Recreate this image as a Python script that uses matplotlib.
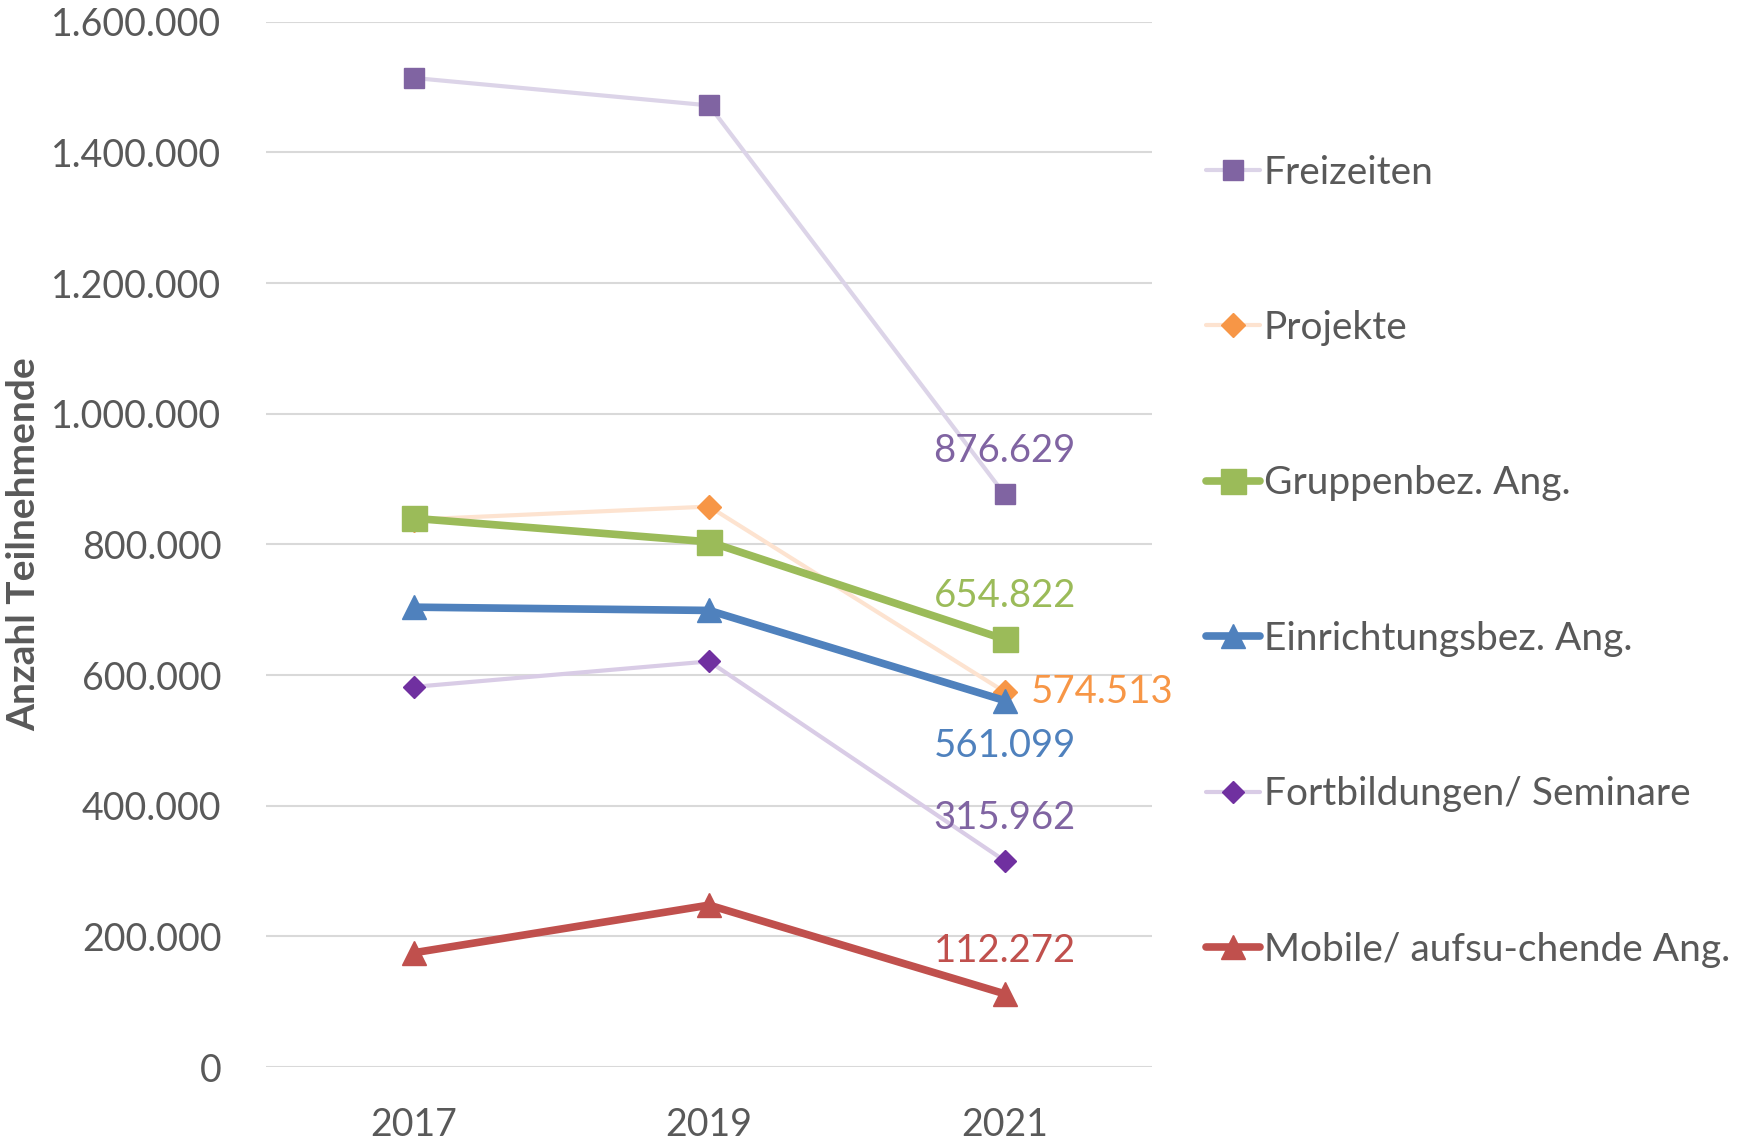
#!/usr/bin/env python3

#imports
import matplotlib
matplotlib.use("Agg")
import matplotlib.pyplot as plt


#data
years = ["2017", "2019", "2021"]
series_names = ["Freizeiten", "Projekte", "Gruppenbez. Ang.", "Einrichtungsbez. Ang.",
                "Fortbildungen/ Seminare", "Mobile/ aufsu-chende Ang."]
freizeiten = [1514000, 1472000, 876629]
projekte = [838000, 858000, 574513]
gruppen = [840000, 804000, 654822]
einrichtung = [704000, 699000, 561099]
fortbildung = [582000, 621000, 315962]
mobile = [175000, 248000, 112272]
yticks = [0, 200000, 400000, 600000, 800000, 1000000, 1200000, 1400000, 1600000]

#styles
grey = "#595959"
styles = [
    # line colour, marker colour, marker, markersize, linewidth, label colour, label offset
    ("#DCD4E8", "#8064A2", "s", 15, 3, "#8064A2", (0, 31), "center"),
    ("#FDE3D0", "#F79646", "D", 12, 3, "#F79646", (19, 0), "left"),
    ("#9BBB59", "#9BBB59", "s", 18, 5.5, "#9BBB59", (0, 31), "center"),
    ("#4F81BD", "#4F81BD", "^", 17, 5.5, "#4F81BD", (0, -33), "center"),
    ("#D9CCE6", "#7030A0", "D", 11, 3, "#8064A2", (0, 31), "center"),
    ("#C0504D", "#C0504D", "^", 17, 5.5, "#C0504D", (0, 31), "center"),
]


def fmt(v):
    return "{:,}".format(int(v)).replace(",", ".")


def main():
    plt.rcParams["font.family"] = ["Lato", "DejaVu Sans"]
    fig = plt.figure(figsize=(17.38, 11.45), dpi=100)
    ax = fig.add_axes([0.153, 0.068, 0.51, 0.913])

    data = [freizeiten, projekte, gruppen, einrichtung, fortbildung, mobile]
    x = list(range(len(years)))
    handles = []
    for name, values, st in zip(series_names, data, styles):
        lc, mc, mk, ms, lw, tc, off, ha = st
        h, = ax.plot(x, values, color=lc, lw=lw, marker=mk, markersize=ms,
                     markerfacecolor=mc, markeredgecolor=mc, label=name,
                     solid_capstyle="round", zorder=3)
        handles.append(h)
        ax.annotate(fmt(values[-1]), (x[-1], values[-1]), xytext=off,
                    textcoords="offset points", ha=ha, va="center",
                    fontsize=27.5, color=tc, zorder=4)

    ax.set_xlim(-0.5, 2.5)
    ax.set_ylim(0, 1600000)
    ax.set_xticks(x)
    ax.set_xticklabels(years)
    ax.set_yticks(yticks)
    ax.set_yticklabels([fmt(v) for v in yticks])
    ax.tick_params(axis="both", length=0, labelsize=27, labelcolor=grey)
    ax.tick_params(axis="x", pad=29)
    ax.tick_params(axis="y", pad=32)
    ax.grid(axis="y", color="#D9D9D9", lw=1.5)
    ax.set_axisbelow(True)
    for s in ax.spines.values():
        s.set_visible(False)
    ax.set_ylabel("Anzahl Teilnehmende", fontsize=28, fontweight="bold",
                  color=grey, labelpad=7)

    leg = fig.legend(handles=handles, loc="center left",
                     bbox_to_anchor=(1206 / 1738, 0.510), frameon=False,
                     fontsize=28, labelspacing=3.07, handlelength=1.4,
                     handletextpad=0.08, borderpad=0, borderaxespad=0)
    for t in leg.get_texts():
        t.set_color(grey)

    fig.savefig("out.png", dpi=100)


if __name__ == "__main__":
    main()
